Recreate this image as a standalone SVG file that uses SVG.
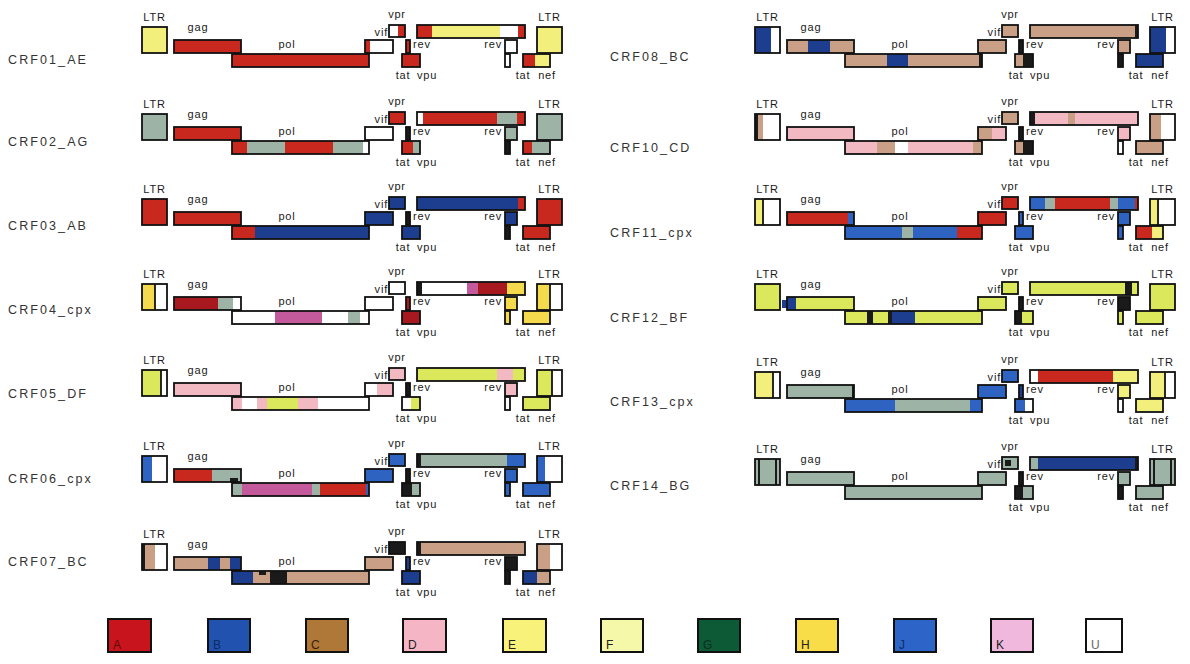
<svg xmlns="http://www.w3.org/2000/svg" width="1190" height="664" viewBox="0 0 1190 664">
<style>
text{font-family:"Liberation Sans",Arial,sans-serif;font-size:11px;fill:#1a1a1a;letter-spacing:0.8px}
.m{text-anchor:middle}.e{text-anchor:end}
.lab{font-size:12.5px;letter-spacing:2.1px;fill:#333}
.o{stroke:#111;stroke-width:1.8}
.n{fill:none}
.A{fill:#c9281f}.Ar{fill:#a8191f}.B{fill:#1d3d8f}.C{fill:#c9a086}.D{fill:#f3b9c3}.E{fill:#f3ef7c}.F{fill:#dbe85c}.G{fill:#9cb3a6}.H{fill:#f5da4e}.J{fill:#2f63c2}.K{fill:#c45a9c}.U{fill:#fff}.X{fill:#1a1a1a}
.lg{stroke:#111;stroke-width:2}
.lt{font-size:12px;letter-spacing:0;fill:#222}
</style>
<rect width="1190" height="664" fill="#fff"/>

<!-- row labels -->
<g id="labels">
<text class="lab" x="8" y="64">CRF01_AE</text>
<text class="lab" x="8" y="146">CRF02_AG</text>
<text class="lab" x="8" y="230">CRF03_AB</text>
<text class="lab" x="8" y="314">CRF04_cpx</text>
<text class="lab" x="8" y="398">CRF05_DF</text>
<text class="lab" x="8" y="483">CRF06_cpx</text>
<text class="lab" x="8" y="566">CRF07_BC</text>
<text class="lab" x="610" y="61">CRF08_BC</text>
<text class="lab" x="610" y="152">CRF10_CD</text>
<text class="lab" x="610" y="237">CRF11_cpx</text>
<text class="lab" x="610" y="322">CRF12_BF</text>
<text class="lab" x="610" y="406">CRF13_cpx</text>
<text class="lab" x="610" y="490">CRF14_BG</text>
</g>

<!-- CRF01_AE -->
<g id="crf01" transform="translate(142,40)">
<rect class="E o" x="0" y="-13" width="25" height="26"/>
<rect class="A o" x="32" y="0" width="67" height="13"/>
<rect class="A o" x="90" y="14" width="137" height="13"/>
<rect class="U" x="223" y="0" width="28" height="13"/><rect class="A" x="223" y="0" width="5" height="13"/><rect class="n o" x="223" y="0" width="28" height="13"/>
<rect class="U" x="247" y="-15" width="16" height="12"/><rect class="A" x="256" y="-15" width="7" height="12"/><rect class="n o" x="247" y="-15" width="16" height="12"/>
<rect class="A o" x="264" y="0" width="4" height="13"/>
<rect class="A o" x="260" y="14" width="18" height="13"/>
<rect class="A" x="275" y="-15" width="15" height="13"/><rect class="E" x="290" y="-15" width="68" height="13"/><rect class="U" x="358" y="-15" width="18" height="13"/><rect class="A" x="376" y="-15" width="7" height="13"/><rect class="n o" x="275" y="-15" width="108" height="13"/>
<rect class="U o" x="363" y="0" width="12" height="13"/>
<rect class="U o" x="363" y="14" width="5" height="13"/>
<rect class="A" x="381" y="14" width="12" height="13"/><rect class="E" x="393" y="14" width="15" height="13"/><rect class="n o" x="381" y="14" width="27" height="13"/>
<rect class="E o" x="395" y="-13" width="25" height="26"/>
<text class="m" x="12.5" y="-19">LTR</text><text class="m" x="56" y="-9">gag</text><text class="m" x="145" y="8">pol</text><text class="e" x="246" y="-4">vif</text><text class="m" x="255" y="-22">vpr</text><text x="271" y="8">rev</text><text class="e" x="360" y="8">rev</text><text class="m" x="261" y="39">tat</text><text class="m" x="285" y="39">vpu</text><text class="m" x="381" y="39">tat</text><text class="m" x="405" y="39">nef</text><text class="m" x="407.5" y="-19">LTR</text>
</g>

<!-- CRF02_AG -->
<g id="crf02" transform="translate(142,127)">
<rect class="G o" x="0" y="-13" width="25" height="26"/>
<rect class="A o" x="32" y="0" width="67" height="13"/>
<rect class="A" x="90" y="14" width="15" height="13"/><rect class="G" x="105" y="14" width="38" height="13"/><rect class="A" x="143" y="14" width="48" height="13"/><rect class="G" x="191" y="14" width="30" height="13"/><rect class="U" x="221" y="14" width="6" height="13"/><rect class="n o" x="90" y="14" width="137" height="13"/>
<rect class="U o" x="223" y="0" width="28" height="13"/>
<rect class="A o" x="247" y="-15" width="16" height="12"/>
<rect class="X o" x="264" y="0" width="4" height="13"/>
<rect class="A" x="260" y="14" width="11" height="13"/><rect class="G" x="271" y="14" width="7" height="13"/><rect class="n o" x="260" y="14" width="18" height="13"/>
<rect class="U" x="275" y="-15" width="6" height="13"/><rect class="A" x="281" y="-15" width="74" height="13"/><rect class="G" x="355" y="-15" width="20" height="13"/><rect class="A" x="375" y="-15" width="8" height="13"/><rect class="n o" x="275" y="-15" width="108" height="13"/>
<rect class="G o" x="363" y="0" width="12" height="13"/>
<rect class="X o" x="363" y="14" width="5" height="13"/>
<rect class="A" x="381" y="14" width="9" height="13"/><rect class="G" x="390" y="14" width="18" height="13"/><rect class="n o" x="381" y="14" width="27" height="13"/>
<rect class="G o" x="395" y="-13" width="25" height="26"/>
<text class="m" x="12.5" y="-19">LTR</text><text class="m" x="56" y="-9">gag</text><text class="m" x="145" y="8">pol</text><text class="e" x="246" y="-4">vif</text><text class="m" x="255" y="-22">vpr</text><text x="271" y="8">rev</text><text class="e" x="360" y="8">rev</text><text class="m" x="261" y="39">tat</text><text class="m" x="285" y="39">vpu</text><text class="m" x="381" y="39">tat</text><text class="m" x="405" y="39">nef</text><text class="m" x="407.5" y="-19">LTR</text>
</g>

<!-- CRF03_AB -->
<g id="crf03" transform="translate(142,212)">
<rect class="A o" x="0" y="-13" width="25" height="26"/>
<rect class="A o" x="32" y="0" width="67" height="13"/>
<rect class="A" x="90" y="14" width="23" height="13"/><rect class="B" x="113" y="14" width="114" height="13"/><rect class="n o" x="90" y="14" width="137" height="13"/>
<rect class="B o" x="223" y="0" width="28" height="13"/>
<rect class="B o" x="247" y="-15" width="16" height="12"/>
<rect class="X o" x="264" y="0" width="4" height="13"/>
<rect class="B o" x="260" y="14" width="18" height="13"/>
<rect class="B" x="275" y="-15" width="101" height="13"/><rect class="A" x="376" y="-15" width="7" height="13"/><rect class="n o" x="275" y="-15" width="108" height="13"/>
<rect class="B o" x="363" y="0" width="12" height="13"/>
<rect class="X o" x="363" y="14" width="5" height="13"/>
<rect class="A o" x="381" y="14" width="27" height="13"/>
<rect class="A o" x="395" y="-13" width="25" height="26"/>
<text class="m" x="12.5" y="-19">LTR</text><text class="m" x="56" y="-9">gag</text><text class="m" x="145" y="8">pol</text><text class="e" x="246" y="-4">vif</text><text class="m" x="255" y="-22">vpr</text><text x="271" y="8">rev</text><text class="e" x="360" y="8">rev</text><text class="m" x="261" y="39">tat</text><text class="m" x="285" y="39">vpu</text><text class="m" x="381" y="39">tat</text><text class="m" x="405" y="39">nef</text><text class="m" x="407.5" y="-19">LTR</text>
</g>

<!-- CRF04_cpx -->
<g id="crf04" transform="translate(142,297)">
<rect class="H" x="0" y="-13" width="13" height="26"/><rect class="U" x="13" y="-13" width="12" height="26"/><rect class="n o" x="0" y="-13" width="25" height="26"/><line class="o" x1="13" y1="-13" x2="13" y2="13"/>
<rect class="Ar" x="32" y="0" width="44" height="13"/><rect class="G" x="76" y="0" width="15" height="13"/><rect class="U" x="91" y="0" width="8" height="13"/><rect class="n o" x="32" y="0" width="67" height="13"/>
<rect class="U" x="90" y="14" width="43" height="13"/><rect class="K" x="133" y="14" width="47" height="13"/><rect class="U" x="180" y="14" width="26" height="13"/><rect class="G" x="206" y="14" width="12" height="13"/><rect class="U" x="218" y="14" width="9" height="13"/><rect class="n o" x="90" y="14" width="137" height="13"/>
<rect class="U o" x="223" y="0" width="28" height="13"/>
<rect class="U o" x="247" y="-15" width="16" height="12"/>
<rect class="Ar o" x="264" y="0" width="4" height="13"/>
<rect class="Ar o" x="260" y="14" width="18" height="13"/>
<rect class="X" x="275" y="-15" width="5" height="13"/><rect class="U" x="280" y="-15" width="45" height="13"/><rect class="K" x="325" y="-15" width="11" height="13"/><rect class="Ar" x="336" y="-15" width="29" height="13"/><rect class="H" x="365" y="-15" width="18" height="13"/><rect class="n o" x="275" y="-15" width="108" height="13"/>
<rect class="H o" x="363" y="0" width="12" height="13"/>
<rect class="H o" x="363" y="14" width="5" height="13"/>
<rect class="H o" x="381" y="14" width="27" height="13"/>
<rect class="H" x="395" y="-13" width="13" height="26"/><rect class="U" x="408" y="-13" width="12" height="26"/><rect class="n o" x="395" y="-13" width="25" height="26"/><line class="o" x1="408" y1="-13" x2="408" y2="13"/>
<text class="m" x="12.5" y="-19">LTR</text><text class="m" x="56" y="-9">gag</text><text class="m" x="145" y="8">pol</text><text class="e" x="246" y="-4">vif</text><text class="m" x="255" y="-22">vpr</text><text x="271" y="8">rev</text><text class="e" x="360" y="8">rev</text><text class="m" x="261" y="39">tat</text><text class="m" x="285" y="39">vpu</text><text class="m" x="381" y="39">tat</text><text class="m" x="405" y="39">nef</text><text class="m" x="407.5" y="-19">LTR</text>
</g>

<!-- CRF05_DF -->
<g id="crf05" transform="translate(142,383)">
<rect class="F" x="0" y="-13" width="19" height="26"/><rect class="U" x="19" y="-13" width="6" height="26"/><rect class="n o" x="0" y="-13" width="25" height="26"/><line class="o" x1="19" y1="-13" x2="19" y2="13"/>
<rect class="D o" x="32" y="0" width="67" height="13"/>
<rect class="D" x="90" y="14" width="10" height="13"/><rect class="U" x="100" y="14" width="15" height="13"/><rect class="D" x="115" y="14" width="10" height="13"/><rect class="F" x="125" y="14" width="31" height="13"/><rect class="D" x="156" y="14" width="20" height="13"/><rect class="U" x="176" y="14" width="51" height="13"/><rect class="n o" x="90" y="14" width="137" height="13"/>
<rect class="U" x="223" y="0" width="12" height="13"/><rect class="D" x="235" y="0" width="16" height="13"/><rect class="n o" x="223" y="0" width="28" height="13"/>
<rect class="D o" x="247" y="-15" width="16" height="12"/>
<rect class="X o" x="264" y="0" width="4" height="13"/>
<rect class="U" x="260" y="14" width="9" height="13"/><rect class="F" x="269" y="14" width="9" height="13"/><rect class="n o" x="260" y="14" width="18" height="13"/>
<rect class="F" x="275" y="-15" width="80" height="13"/><rect class="D" x="355" y="-15" width="16" height="13"/><rect class="F" x="371" y="-15" width="12" height="13"/><rect class="n o" x="275" y="-15" width="108" height="13"/>
<rect class="D o" x="363" y="0" width="12" height="13" stroke-width="2.4"/>
<rect class="U o" x="363" y="14" width="5" height="13"/>
<rect class="F o" x="381" y="14" width="27" height="13"/>
<rect class="F" x="395" y="-13" width="15" height="26"/><rect class="U" x="410" y="-13" width="10" height="26"/><rect class="n o" x="395" y="-13" width="25" height="26"/><line class="o" x1="410" y1="-13" x2="410" y2="13"/>
<text class="m" x="12.5" y="-19">LTR</text><text class="m" x="56" y="-9">gag</text><text class="m" x="145" y="8">pol</text><text class="e" x="246" y="-4">vif</text><text class="m" x="255" y="-22">vpr</text><text x="271" y="8">rev</text><text class="e" x="360" y="8">rev</text><text class="m" x="261" y="39">tat</text><text class="m" x="285" y="39">vpu</text><text class="m" x="381" y="39">tat</text><text class="m" x="405" y="39">nef</text><text class="m" x="407.5" y="-19">LTR</text>
</g>

<!-- CRF06_cpx -->
<g id="crf06" transform="translate(142,469)">
<rect class="J" x="0" y="-13" width="10" height="26"/><rect class="U" x="10" y="-13" width="15" height="26"/><rect class="n o" x="0" y="-13" width="25" height="26"/>
<rect class="A" x="32" y="0" width="38" height="13"/><rect class="G" x="70" y="0" width="29" height="13"/><rect class="X" x="88" y="9" width="8" height="4"/><rect class="n o" x="32" y="0" width="67" height="13"/>
<rect class="G" x="90" y="14" width="10" height="13"/><rect class="K" x="100" y="14" width="70" height="13"/><rect class="G" x="170" y="14" width="8" height="13"/><rect class="A" x="178" y="14" width="46" height="13"/><rect class="J" x="224" y="14" width="3" height="13"/><rect class="n o" x="90" y="14" width="137" height="13"/>
<rect class="J o" x="223" y="0" width="28" height="13"/>
<rect class="J o" x="247" y="-15" width="16" height="12"/>
<rect class="X o" x="264" y="0" width="4" height="13"/>
<rect class="X" x="260" y="14" width="10" height="13"/><rect class="G" x="270" y="14" width="8" height="13"/><rect class="n o" x="260" y="14" width="18" height="13"/>
<rect class="X" x="275" y="-15" width="4" height="13"/><rect class="G" x="279" y="-15" width="86" height="13"/><rect class="J" x="365" y="-15" width="18" height="13"/><rect class="n o" x="275" y="-15" width="108" height="13"/>
<rect class="J o" x="363" y="0" width="12" height="13"/>
<rect class="J o" x="363" y="14" width="5" height="13"/>
<rect class="J o" x="381" y="14" width="27" height="13"/>
<rect class="J" x="395" y="-13" width="8" height="26"/><rect class="U" x="403" y="-13" width="17" height="26"/><rect class="n o" x="395" y="-13" width="25" height="26"/>
<text class="m" x="12.5" y="-19">LTR</text><text class="m" x="56" y="-9">gag</text><text class="m" x="145" y="8">pol</text><text class="e" x="246" y="-4">vif</text><text class="m" x="255" y="-22">vpr</text><text x="271" y="8">rev</text><text class="e" x="360" y="8">rev</text><text class="m" x="261" y="39">tat</text><text class="m" x="285" y="39">vpu</text><text class="m" x="381" y="39">tat</text><text class="m" x="405" y="39">nef</text><text class="m" x="407.5" y="-19">LTR</text>
</g>

<!-- CRF07_BC -->
<g id="crf07" transform="translate(142,557)">
<rect class="X" x="0" y="-13" width="3" height="26"/><rect class="C" x="3" y="-13" width="10" height="26"/><rect class="U" x="13" y="-13" width="12" height="26"/><rect class="n o" x="0" y="-13" width="25" height="26"/>
<rect class="C" x="32" y="0" width="34" height="13"/><rect class="B" x="66" y="0" width="12" height="13"/><rect class="C" x="78" y="0" width="10" height="13"/><rect class="B" x="88" y="0" width="11" height="13"/><rect class="n o" x="32" y="0" width="67" height="13"/>
<rect class="B" x="90" y="14" width="21" height="13"/><rect class="C" x="111" y="14" width="17" height="13"/><rect class="X" x="117" y="14" width="7" height="4"/><rect class="X" x="128" y="14" width="17" height="13"/><rect class="C" x="145" y="14" width="82" height="13"/><rect class="n o" x="90" y="14" width="137" height="13"/>
<rect class="C o" x="223" y="0" width="28" height="13"/>
<rect class="X o" x="247" y="-15" width="16" height="12"/>
<rect class="B o" x="264" y="0" width="4" height="13"/>
<rect class="B o" x="260" y="14" width="18" height="13"/>
<rect class="X" x="275" y="-15" width="4" height="13"/><rect class="C" x="279" y="-15" width="104" height="13"/><rect class="n o" x="275" y="-15" width="108" height="13"/>
<rect class="X o" x="363" y="0" width="12" height="13"/>
<rect class="X o" x="363" y="14" width="5" height="13"/>
<rect class="B" x="381" y="14" width="14" height="13"/><rect class="C" x="395" y="14" width="13" height="13"/><rect class="n o" x="381" y="14" width="27" height="13"/>
<rect class="C" x="395" y="-13" width="13" height="26"/><rect class="U" x="408" y="-13" width="12" height="26"/><rect class="n o" x="395" y="-13" width="25" height="26"/>
<text class="m" x="12.5" y="-19">LTR</text><text class="m" x="56" y="-9">gag</text><text class="m" x="145" y="8">pol</text><text class="e" x="246" y="-4">vif</text><text class="m" x="255" y="-22">vpr</text><text x="271" y="8">rev</text><text class="e" x="360" y="8">rev</text><text class="m" x="261" y="39">tat</text><text class="m" x="285" y="39">vpu</text><text class="m" x="381" y="39">tat</text><text class="m" x="405" y="39">nef</text><text class="m" x="407.5" y="-19">LTR</text>
</g>

<!-- CRF08_BC -->
<g id="crf08" transform="translate(755,40)">
<rect class="B" x="0" y="-13" width="16" height="26"/><rect class="U" x="16" y="-13" width="9" height="26"/><rect class="n o" x="0" y="-13" width="25" height="26"/>
<rect class="C" x="32" y="0" width="21" height="13"/><rect class="B" x="53" y="0" width="22" height="13"/><rect class="C" x="75" y="0" width="24" height="13"/><rect class="n o" x="32" y="0" width="67" height="13"/>
<rect class="C" x="90" y="14" width="42" height="13"/><rect class="B" x="132" y="14" width="21" height="13"/><rect class="C" x="153" y="14" width="71" height="13"/><rect class="X" x="224" y="14" width="3" height="13"/><rect class="n o" x="90" y="14" width="137" height="13"/>
<rect class="C o" x="223" y="0" width="28" height="13"/>
<rect class="C o" x="247" y="-15" width="16" height="12"/>
<rect class="X o" x="264" y="0" width="4" height="13"/>
<rect class="C" x="260" y="14" width="8" height="13"/><rect class="X" x="268" y="14" width="10" height="13"/><rect class="n o" x="260" y="14" width="18" height="13"/>
<rect class="C" x="275" y="-15" width="105" height="13"/><rect class="X" x="380" y="-15" width="3" height="13"/><rect class="n o" x="275" y="-15" width="108" height="13"/>
<rect class="C o" x="363" y="0" width="12" height="13"/>
<rect class="X o" x="363" y="14" width="5" height="13"/>
<rect class="B o" x="381" y="14" width="27" height="13"/>
<rect class="B" x="395" y="-13" width="16" height="26"/><rect class="U" x="411" y="-13" width="9" height="26"/><rect class="n o" x="395" y="-13" width="25" height="26"/>
<text class="m" x="12.5" y="-19">LTR</text><text class="m" x="56" y="-9">gag</text><text class="m" x="145" y="8">pol</text><text class="e" x="246" y="-4">vif</text><text class="m" x="255" y="-22">vpr</text><text x="271" y="8">rev</text><text class="e" x="360" y="8">rev</text><text class="m" x="261" y="39">tat</text><text class="m" x="285" y="39">vpu</text><text class="m" x="381" y="39">tat</text><text class="m" x="405" y="39">nef</text><text class="m" x="407.5" y="-19">LTR</text>
</g>

<!-- CRF10_CD -->
<g id="crf10" transform="translate(755,127)">
<rect class="X" x="0" y="-13" width="3" height="26"/><rect class="C" x="3" y="-13" width="5" height="26"/><rect class="U" x="8" y="-13" width="17" height="26"/><rect class="n o" x="0" y="-13" width="25" height="26"/>
<rect class="D o" x="32" y="0" width="67" height="13"/>
<rect class="D" x="90" y="14" width="32" height="13"/><rect class="C" x="122" y="14" width="18" height="13"/><rect class="U" x="140" y="14" width="13" height="13"/><rect class="D" x="153" y="14" width="65" height="13"/><rect class="C" x="218" y="14" width="9" height="13"/><rect class="n o" x="90" y="14" width="137" height="13"/>
<rect class="C" x="223" y="0" width="14" height="13"/><rect class="D" x="237" y="0" width="14" height="13"/><rect class="n o" x="223" y="0" width="28" height="13"/>
<rect class="C o" x="247" y="-15" width="16" height="12"/>
<rect class="X o" x="264" y="0" width="4" height="13"/>
<rect class="C" x="260" y="14" width="8" height="13"/><rect class="X" x="268" y="14" width="10" height="13"/><rect class="n o" x="260" y="14" width="18" height="13"/>
<rect class="X" x="275" y="-15" width="5" height="13"/><rect class="D" x="280" y="-15" width="33" height="13"/><rect class="C" x="313" y="-15" width="7" height="13"/><rect class="D" x="320" y="-15" width="63" height="13"/><rect class="n o" x="275" y="-15" width="108" height="13"/>
<rect class="D o" x="363" y="0" width="12" height="13"/>
<rect class="U o" x="363" y="14" width="5" height="13"/>
<rect class="C o" x="381" y="14" width="27" height="13"/>
<rect class="C" x="395" y="-13" width="11" height="26"/><rect class="U" x="406" y="-13" width="14" height="26"/><rect class="n o" x="395" y="-13" width="25" height="26"/>
<text class="m" x="12.5" y="-19">LTR</text><text class="m" x="56" y="-9">gag</text><text class="m" x="145" y="8">pol</text><text class="e" x="246" y="-4">vif</text><text class="m" x="255" y="-22">vpr</text><text x="271" y="8">rev</text><text class="e" x="360" y="8">rev</text><text class="m" x="261" y="39">tat</text><text class="m" x="285" y="39">vpu</text><text class="m" x="381" y="39">tat</text><text class="m" x="405" y="39">nef</text><text class="m" x="407.5" y="-19">LTR</text>
</g>

<!-- CRF11_cpx -->
<g id="crf11" transform="translate(755,212)">
<rect class="E" x="0" y="-13" width="8" height="26"/><rect class="U" x="8" y="-13" width="17" height="26"/><rect class="n o" x="0" y="-13" width="25" height="26"/><line class="o" x1="8" y1="-13" x2="8" y2="13"/>
<rect class="A" x="32" y="0" width="61" height="13"/><rect class="J" x="93" y="0" width="6" height="13"/><rect class="n o" x="32" y="0" width="67" height="13"/>
<rect class="J" x="90" y="14" width="57" height="13"/><rect class="G" x="147" y="14" width="11" height="13"/><rect class="J" x="158" y="14" width="44" height="13"/><rect class="A" x="202" y="14" width="25" height="13"/><rect class="n o" x="90" y="14" width="137" height="13"/>
<rect class="A o" x="223" y="0" width="28" height="13"/>
<rect class="A o" x="247" y="-15" width="16" height="12"/>
<rect class="J o" x="264" y="0" width="4" height="13"/>
<rect class="J o" x="260" y="14" width="18" height="13"/>
<rect class="J" x="275" y="-15" width="15" height="13"/><rect class="G" x="290" y="-15" width="10" height="13"/><rect class="A" x="300" y="-15" width="55" height="13"/><rect class="G" x="355" y="-15" width="8" height="13"/><rect class="J" x="363" y="-15" width="17" height="13"/><rect class="A" x="380" y="-15" width="3" height="13"/><rect class="n o" x="275" y="-15" width="108" height="13"/>
<rect class="J o" x="363" y="0" width="12" height="13"/>
<rect class="J o" x="363" y="14" width="5" height="13"/>
<rect class="A" x="381" y="14" width="16" height="13"/><rect class="E" x="397" y="14" width="11" height="13"/><rect class="n o" x="381" y="14" width="27" height="13"/>
<rect class="E" x="395" y="-13" width="8" height="26"/><rect class="U" x="403" y="-13" width="17" height="26"/><rect class="n o" x="395" y="-13" width="25" height="26"/><line class="o" x1="403" y1="-13" x2="403" y2="13"/>
<text class="m" x="12.5" y="-19">LTR</text><text class="m" x="56" y="-9">gag</text><text class="m" x="145" y="8">pol</text><text class="e" x="246" y="-4">vif</text><text class="m" x="255" y="-22">vpr</text><text x="271" y="8">rev</text><text class="e" x="360" y="8">rev</text><text class="m" x="261" y="39">tat</text><text class="m" x="285" y="39">vpu</text><text class="m" x="381" y="39">tat</text><text class="m" x="405" y="39">nef</text><text class="m" x="407.5" y="-19">LTR</text>
</g>

<!-- CRF12_BF -->
<g id="crf12" transform="translate(755,297)">
<rect class="F o" x="0" y="-13" width="25" height="26"/>
<rect class="B" x="27" y="3" width="6" height="8"/>
<rect class="B" x="32" y="0" width="9" height="13"/><rect class="F" x="41" y="0" width="58" height="13"/><rect class="n o" x="32" y="0" width="67" height="13"/>
<rect class="F" x="90" y="14" width="22" height="13"/><rect class="X" x="112" y="14" width="6" height="13"/><rect class="F" x="118" y="14" width="15" height="13"/><rect class="X" x="133" y="14" width="4" height="13"/><rect class="B" x="137" y="14" width="23" height="13"/><rect class="F" x="160" y="14" width="67" height="13"/><rect class="n o" x="90" y="14" width="137" height="13"/>
<rect class="F o" x="223" y="0" width="28" height="13"/>
<rect class="F o" x="247" y="-15" width="16" height="12"/>
<rect class="X o" x="264" y="0" width="4" height="13"/>
<rect class="X" x="260" y="14" width="7" height="13"/><rect class="F" x="267" y="14" width="11" height="13"/><rect class="n o" x="260" y="14" width="18" height="13"/>
<rect class="F" x="275" y="-15" width="95" height="13"/><rect class="X" x="370" y="-15" width="7" height="13"/><rect class="F" x="377" y="-15" width="6" height="13"/><rect class="n o" x="275" y="-15" width="108" height="13"/>
<rect class="X o" x="363" y="0" width="12" height="13"/>
<rect class="F o" x="363" y="14" width="5" height="13"/>
<rect class="F o" x="381" y="14" width="27" height="13"/>
<rect class="F o" x="395" y="-13" width="25" height="26"/>
<text class="m" x="12.5" y="-19">LTR</text><text class="m" x="56" y="-9">gag</text><text class="m" x="145" y="8">pol</text><text class="e" x="246" y="-4">vif</text><text class="m" x="255" y="-22">vpr</text><text x="271" y="8">rev</text><text class="e" x="360" y="8">rev</text><text class="m" x="261" y="39">tat</text><text class="m" x="285" y="39">vpu</text><text class="m" x="381" y="39">tat</text><text class="m" x="405" y="39">nef</text><text class="m" x="407.5" y="-19">LTR</text>
</g>

<!-- CRF13_cpx -->
<g id="crf13" transform="translate(755,385)">
<rect class="E" x="0" y="-13" width="18" height="26"/><rect class="U" x="18" y="-13" width="7" height="26"/><rect class="n o" x="0" y="-13" width="25" height="26"/><line class="o" x1="18" y1="-13" x2="18" y2="13"/>
<rect class="G" x="32" y="0" width="65" height="13"/><rect class="X" x="97" y="0" width="2" height="13"/><rect class="n o" x="32" y="0" width="67" height="13"/>
<rect class="J" x="90" y="14" width="50" height="13"/><rect class="G" x="140" y="14" width="75" height="13"/><rect class="J" x="215" y="14" width="12" height="13"/><rect class="n o" x="90" y="14" width="137" height="13"/>
<rect class="J o" x="223" y="0" width="28" height="13"/>
<rect class="J o" x="247" y="-15" width="16" height="12"/>
<rect class="B o" x="264" y="0" width="4" height="13"/>
<rect class="J" x="260" y="14" width="10" height="13"/><rect class="U" x="270" y="14" width="8" height="13"/><rect class="n o" x="260" y="14" width="18" height="13"/>
<rect class="U" x="275" y="-15" width="8" height="13"/><rect class="A" x="283" y="-15" width="75" height="13"/><rect class="E" x="358" y="-15" width="25" height="13"/><rect class="n o" x="275" y="-15" width="108" height="13"/>
<rect class="E o" x="363" y="0" width="12" height="13"/>
<rect class="U o" x="363" y="14" width="5" height="13"/>
<rect class="E o" x="381" y="14" width="27" height="13"/>
<rect class="E" x="395" y="-13" width="15" height="26"/><rect class="U" x="410" y="-13" width="10" height="26"/><rect class="n o" x="395" y="-13" width="25" height="26"/><line class="o" x1="410" y1="-13" x2="410" y2="13"/>
<text class="m" x="12.5" y="-19">LTR</text><text class="m" x="56" y="-9">gag</text><text class="m" x="145" y="8">pol</text><text class="e" x="246" y="-4">vif</text><text class="m" x="255" y="-22">vpr</text><text x="271" y="8">rev</text><text class="e" x="360" y="8">rev</text><text class="m" x="261" y="39">tat</text><text class="m" x="285" y="39">vpu</text><text class="m" x="381" y="39">tat</text><text class="m" x="405" y="39">nef</text><text class="m" x="407.5" y="-19">LTR</text>
</g>

<!-- CRF14_BG -->
<g id="crf14" transform="translate(755,472)">
<rect class="G" x="0" y="-13" width="25" height="26"/><rect class="X" x="3" y="-13" width="2" height="26"/><rect class="X" x="20" y="-13" width="2" height="26"/><rect class="n o" x="0" y="-13" width="25" height="26"/>
<rect class="G o" x="32" y="0" width="67" height="13"/>
<rect class="G o" x="90" y="14" width="137" height="13"/>
<rect class="G o" x="223" y="0" width="28" height="13"/>
<rect class="G" x="247" y="-15" width="16" height="12"/><rect class="X" x="250" y="-12" width="6" height="6"/><rect class="n o" x="247" y="-15" width="16" height="12"/>
<rect class="X o" x="264" y="0" width="4" height="13"/>
<rect class="X" x="260" y="14" width="8" height="13"/><rect class="G" x="268" y="14" width="10" height="13"/><rect class="n o" x="260" y="14" width="18" height="13"/>
<rect class="G" x="275" y="-15" width="8" height="13"/><rect class="B" x="283" y="-15" width="97" height="13"/><rect class="X" x="380" y="-15" width="3" height="13"/><rect class="n o" x="275" y="-15" width="108" height="13"/>
<rect class="G o" x="363" y="0" width="12" height="13"/>
<rect class="X o" x="363" y="14" width="5" height="13"/>
<rect class="G o" x="381" y="14" width="27" height="13"/>
<rect class="G" x="395" y="-13" width="25" height="26"/><rect class="X" x="398" y="-13" width="2" height="26"/><rect class="X" x="415" y="-13" width="2" height="26"/><rect class="n o" x="395" y="-13" width="25" height="26"/>
<text class="m" x="12.5" y="-19">LTR</text><text class="m" x="56" y="-9">gag</text><text class="m" x="145" y="8">pol</text><text class="e" x="246" y="-4">vif</text><text class="m" x="255" y="-22">vpr</text><text x="271" y="8">rev</text><text class="e" x="360" y="8">rev</text><text class="m" x="261" y="39">tat</text><text class="m" x="285" y="39">vpu</text><text class="m" x="381" y="39">tat</text><text class="m" x="405" y="39">nef</text><text class="m" x="407.5" y="-19">LTR</text>
</g>

<!-- legend -->
<g id="legend">
<rect class="lg" x="108" y="619" width="43" height="33" fill="#c8141c"/><text class="lt" x="113" y="649" style="fill:#5a0a0a">A</text>
<rect class="lg" x="208" y="619" width="42" height="33" fill="#2152b0"/><text class="lt" x="213" y="649" style="fill:#0e2a60">B</text>
<rect class="lg" x="306" y="619" width="42" height="33" fill="#b07838"/><text class="lt" x="311" y="649" style="fill:#3a2208">C</text>
<rect class="lg" x="403" y="619" width="43" height="33" fill="#f5b5c5"/><text class="lt" x="408" y="649">D</text>
<rect class="lg" x="503" y="619" width="43" height="33" fill="#f8f27a"/><text class="lt" x="508" y="649">E</text>
<rect class="lg" x="601" y="619" width="42" height="33" fill="#f5f8a8"/><text class="lt" x="606" y="649">F</text>
<rect class="lg" x="698" y="619" width="42" height="33" fill="#0d5a36"/><text class="lt" x="703" y="649" style="fill:#06301c">G</text>
<rect class="lg" x="796" y="619" width="42" height="33" fill="#f8dc48"/><text class="lt" x="801" y="649">H</text>
<rect class="lg" x="894" y="619" width="42" height="33" fill="#2d64c8"/><text class="lt" x="899" y="649" style="fill:#102c60">J</text>
<rect class="lg" x="991" y="619" width="42" height="33" fill="#f0b8dc"/><text class="lt" x="996" y="649">K</text>
<rect class="lg" x="1086" y="619" width="36" height="33" fill="#fff"/><text class="lt" x="1091" y="649" style="fill:#666">U</text>
</g>
</svg>
